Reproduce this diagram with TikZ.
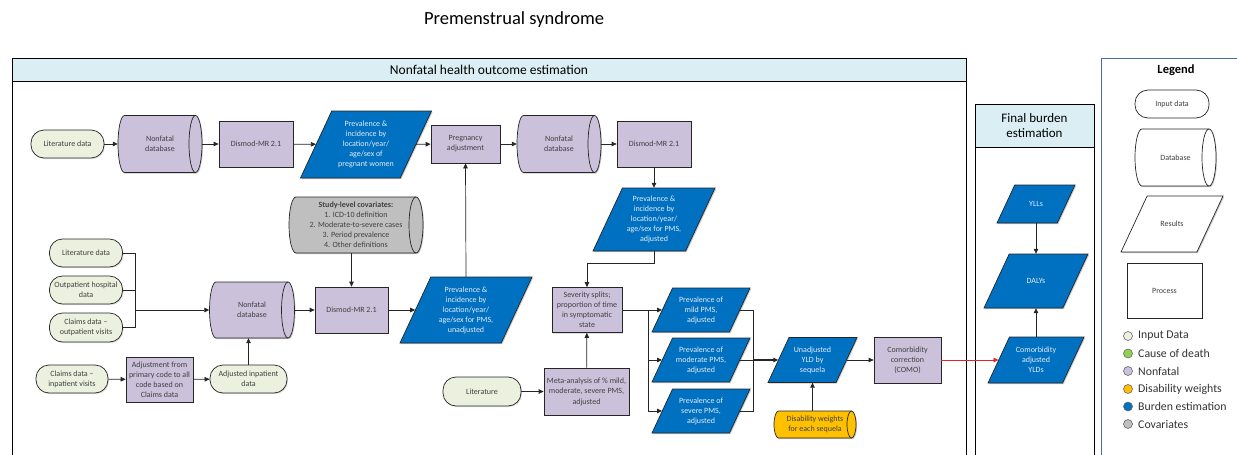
\documentclass[tikz,border=0pt]{standalone}
\usepackage{fontspec}
\setmainfont{Carlito}
\usetikzlibrary{arrows.meta,shadows}
\definecolor{nfill}{HTML}{CCC1DA}
\definecolor{infill}{HTML}{EBF1DE}
\definecolor{bfill}{HTML}{0070C0}
\definecolor{cfill}{HTML}{BFBFBF}
\definecolor{dwfill}{HTML}{FFC000}
\definecolor{codfill}{HTML}{92D050}
\definecolor{hdfill}{HTML}{DAEEF3}
\definecolor{txt}{HTML}{404040}
\definecolor{btxt}{HTML}{E4ECF7}
\definecolor{legline}{HTML}{4A6E9E}
\definecolor{redline}{HTML}{E0262B}

% horizontal database cylinder: name, cx, cy, width, height, end radius, fill, text
\newcommand\cylnode[8]{%
  \pgfmathsetmacro\cyL{#2-#4/2}\pgfmathsetmacro\cyR{#2+#4/2}%
  \pgfmathsetmacro\cyT{#3-#5/2}\pgfmathsetmacro\cyB{#3+#5/2}%
  \pgfmathsetmacro\cyRY{#5/2}%
  \path[fill=black,opacity=0.22,shift={(1pt,-1.2pt)}]
    (\cyL+#6,\cyT) -- (\cyR-#6,\cyT)
    arc[start angle=90,end angle=-90,x radius=#6pt,y radius=\cyRY*1pt]
    -- (\cyL+#6,\cyB)
    arc[start angle=-90,end angle=-270,x radius=#6pt,y radius=\cyRY*1pt] -- cycle;
  \path[draw=black!85,line width=0.7pt,fill=#7]
    (\cyL+#6,\cyT) -- (\cyR-#6,\cyT)
    arc[start angle=90,end angle=-90,x radius=#6pt,y radius=\cyRY*1pt]
    -- (\cyL+#6,\cyB)
    arc[start angle=-90,end angle=-270,x radius=#6pt,y radius=\cyRY*1pt] -- cycle;
  \draw[black!85,line width=0.7pt] (\cyR-#6,\cyT)
    arc[start angle=90,end angle=270,x radius=#6pt,y radius=\cyRY*1pt];
  \node[minimum width=#4pt,minimum height=#5pt] (#1) at (#2,#3) {#8};
}

% result parallelogram (sides at 65 degrees): name, cx, cy, total width, height, fill, text colour, text
\newcommand\paranode[8]{%
  \pgfmathsetmacro\paS{#5*0.4663}%
  \pgfmathsetmacro\paW{#4-\paS}%
  \pgfmathsetmacro\paL{#2-#4/2}\pgfmathsetmacro\paR{#2+#4/2}%
  \pgfmathsetmacro\paT{#3-#5/2}\pgfmathsetmacro\paB{#3+#5/2}%
  \path[fill=black,opacity=0.22,shift={(1pt,-1.2pt)}]
    (\paL+\paS,\paT) -- (\paR,\paT) -- (\paR-\paS,\paB) -- (\paL,\paB) -- cycle;
  \path[draw=black!85,line width=0.7pt,fill=#6]
    (\paL+\paS,\paT) -- (\paR,\paT) -- (\paR-\paS,\paB) -- (\paL,\paB) -- cycle;
  \node[minimum width=\paW pt,minimum height=#5pt,text=#7] (#1) at (#2,#3) {#8};
}

\begin{document}
\begin{tikzpicture}[x=1pt,y=-1pt,
  font=\fontsize{8}{10}\selectfont,
  every node/.style={align=center,text=txt,inner sep=1pt},
  shp/.style={draw=black!85,line width=0.7pt,
    drop shadow={shadow xshift=1pt,shadow yshift=-1.2pt,opacity=0.25}},
  inp/.style={shp,rectangle,rounded corners=13pt,fill=infill},
  proc/.style={shp,rectangle,fill=nfill},
  legshp/.style={draw=black!85,line width=0.7pt,fill=white},
  sz/.style 2 args={minimum width=#1,minimum height=#2},
  arr/.style={draw=black!85,line width=0.7pt,-{Triangle[length=5pt,width=4.5pt]}},
  lin/.style={draw=black!85,line width=0.7pt},
  frame/.style={draw=black,line width=0.9pt},
  dot/.style={circle,draw=black!60,line width=0.6pt,minimum size=9pt,inner sep=0pt},
  legtxt/.style={anchor=west,font=\fontsize{11.8}{12}\selectfont,text=black!80}
]
\useasboundingbox (0,0) rectangle (1237,455);
\clip (0,0) rectangle (1237,455);

% title
\node[font=\fontsize{18.5}{20}\selectfont,text=black] (title) at (514,20) {Premenstrual syndrome};

% frames
\draw[frame] (12,470) -- (12,58) -- (966,58) -- (966,470);
\draw[frame,fill=hdfill] (12,58) rectangle (966,81.5);
\node[font=\fontsize{13.5}{15}\selectfont,text=black] (hdmain) at (489,70) {Nonfatal health outcome estimation};

\draw[frame] (975,470) -- (975,104) -- (1094,104) -- (1094,470);
\draw[frame,fill=hdfill] (975,104) rectangle (1094,147);
\node[font=\fontsize{13}{15.5}\selectfont,text=black] (hdfinal) at (1034.5,125.5) {Final burden\\estimation};

\draw[draw=legline,line width=0.8pt] (1101,470) -- (1101,58) -- (1245,58) -- (1245,470);
\node[font=\bfseries\fontsize{12.5}{14}\selectfont,text=black] (legtitle) at (1176,70) {Legend};

% first row: pregnant women
\node[inp,sz={73pt}{28pt}] (lit1) at (67.5,144) {Literature data};
\cylnode{db1}{160}{144}{84}{57}{6.5}{nfill}{Nonfatal\\database}
\node[proc,sz={74pt}{46pt}] (dism1) at (256,144) {Dismod-MR 2.1};
\paranode{prevp}{366}{144.5}{131}{67}{bfill}{btxt}{Prevalence \&\\incidence by\\location/year/\\age/sex of\\pregnant women}
\node[proc,sz={69pt}{38pt}] (preg) at (465.5,144) {Pregnancy\\adjustment};
\cylnode{db2}{559}{144}{84}{57}{6.5}{nfill}{Nonfatal\\database}
\node[proc,sz={74pt}{46pt}] (dism2) at (654,144) {Dismod-MR 2.1};
\paranode{prevadj}{654}{219.5}{122}{63}{bfill}{btxt}{Prevalence \&\\incidence by\\location/year/\\age/sex for PMS,\\adjusted}

% second row: PMS data
\cylnode{cov}{356}{225}{134}{56}{7}{cfill}{\textbf{Study-level covariates:}\\1. ICD-10 definition\\2. Moderate-to-severe cases\\3. Period prevalence\\4. Other definitions}
\node[inp,sz={73pt}{28pt}] (lit2) at (86,253) {Literature data};
\node[inp,sz={73pt}{28pt}] (outp) at (86,290) {Outpatient hospital\\data};
\node[inp,sz={73pt}{29pt}] (clout) at (86,327.5) {Claims data –\\outpatient visits};
\cylnode{db3}{252}{310}{85}{56}{6.5}{nfill}{Nonfatal\\database}
\node[proc,sz={73pt}{46pt}] (dism3) at (351.5,310) {Dismod-MR 2.1};
\paranode{prevu}{466}{310}{132}{66}{bfill}{btxt}{Prevalence \&\\incidence by\\location/year/\\age/sex for PMS,\\unadjusted}

\node[inp,sz={72pt}{28pt}] (clin) at (72,379) {Claims data –\\inpatient visits};
\node[proc,sz={67pt}{45pt}] (adj) at (159.5,379.5) {Adjustment from\\primary code to all\\code based on\\Claims data};
\node[inp,sz={77pt}{28pt}] (adjinp) at (248.5,379) {Adjusted inpatient\\data};

% severity splits
\node[proc,sz={70pt}{45pt}] (sev) at (587,310) {Severity splits;\\proportion of time\\in symptomatic\\state};
\node[proc,sz={85pt}{47pt},font=\fontsize{8}{10.5}\selectfont] (meta) at (586.5,391.5) {Meta-analysis of \% mild,\\moderate, severe PMS,\\adjusted};
\node[inp,sz={78pt}{29pt}] (lit3) at (482,391.5) {Literature};
\paranode{mild}{701}{310}{98}{44}{bfill}{btxt}{Prevalence of\\mild PMS,\\adjusted}
\paranode{mod}{701}{360}{98}{44}{bfill}{btxt}{Prevalence of\\moderate PMS,\\adjusted}
\paranode{sevp}{701}{411}{98}{44}{bfill}{btxt}{Prevalence of\\severe PMS,\\adjusted}
\paranode{yld}{812.5}{360}{89}{45}{bfill}{btxt}{Unadjusted\\YLD by\\sequela}
\cylnode{dw}{815}{424.5}{82}{27}{4.5}{dwfill}{Disability weights\\for each sequela}
\node[proc,sz={67pt}{46pt}] (como) at (907.5,360) {Comorbidity\\correction\\(COMO)};

% final burden
\paranode{cyld}{1036}{360}{96}{46}{bfill}{btxt}{Comorbidity\\adjusted\\YLDs}
\paranode{dalys}{1036}{281}{104}{54}{bfill}{btxt}{DALYs}
\paranode{ylls}{1036}{204}{78}{38}{bfill}{btxt}{YLLs}

% connectors
\draw[arr] (lit1) -- (db1);
\draw[arr] (db1) -- (dism1);
\draw[arr] (dism1) -- (prevp);
\draw[arr] (prevp) -- (preg);
\draw[arr] (preg) -- (db2);
\draw[arr] (db2) -- (dism2);
\draw[arr] (dism2) -- (prevadj);
\draw[arr] (prevadj.south) -- ++(0,12) -| (sev.north);
\draw[arr] (prevu.north) -- (preg.south);
\draw[arr] (cov.south -| dism3.north) -- (dism3.north);

\coordinate (ibt) at (135,253);
\coordinate (ibm) at (135,310);
\coordinate (ibb) at (135,327.5);
\draw[lin] (lit2.east) -- (ibt) -- (ibb) -- (clout.east);
\draw[lin] (outp.east) -- (outp.east -| ibt);
\draw[arr] (ibm) -- (db3.west);
\draw[arr] (db3) -- (dism3);
\draw[arr] (dism3) -- (prevu);
\draw[arr] (clin) -- (adj);
\draw[arr] (adj) -- (adjinp);
\draw[arr] (adjinp.north) -- (adjinp.north |- db3.south);

\draw[arr] (lit3) -- (meta);
\draw[arr] (meta) -- (sev);
\coordinate (lbt) at (648,310);
\draw[arr] (sev.east) -- (mild.west);
\draw[arr] (lbt) |- (mod.west);
\draw[arr] (lbt) |- (sevp.west);
\coordinate (rbt) at (753,310);
\coordinate (rbm) at (753,360);
\coordinate (rbb) at (753,411);
\draw[lin] (mild.east) -- (rbt) -- (rbb) -- (sevp.east);
\draw[lin] (mod.east) -- (rbm);
\draw[arr,line width=1.4pt] (rbm) -- (yld.west);
\draw[arr] (yld.south |- dw.north) -- (yld.south);
\draw[arr] (yld) -- (como);
\draw[arr,draw=redline] (como) -- (cyld);
\draw[arr] (cyld) -- (dalys);
\draw[arr] (ylls) -- (dalys);

% legend
\node[legshp,rectangle,rounded corners=13pt,sz={74pt}{28pt}] (lin1) at (1172,104) {Input data};
\cylnode{lin2}{1175.5}{157.5}{81}{57}{7}{white}{Database}
\paranode{lin3}{1172}{224}{102}{56}{white}{txt}{Results}
\node[legshp,rectangle,sz={75pt}{55pt}] (lin4) at (1164.5,290.5) {Process};

\node[dot,fill=infill] (k1) at (1128,336) {};
\node[legtxt] (t1) at (1137,336) {Input Data};
\node[dot,fill=codfill] (k2) at (1128,353.5) {};
\node[legtxt] (t2) at (1137,353.5) {Cause of death};
\node[dot,fill=nfill] (k3) at (1128,371) {};
\node[legtxt] (t3) at (1137,371) {Nonfatal};
\node[dot,fill=dwfill] (k4) at (1128,389) {};
\node[legtxt] (t4) at (1137,389) {Disability weights};
\node[dot,fill=bfill] (k5) at (1128,406.5) {};
\node[legtxt] (t5) at (1137,406.5) {Burden estimation};
\node[dot,fill=cfill] (k6) at (1128,424) {};
\node[legtxt] (t6) at (1137,424) {Covariates};
\end{tikzpicture}
\end{document}
